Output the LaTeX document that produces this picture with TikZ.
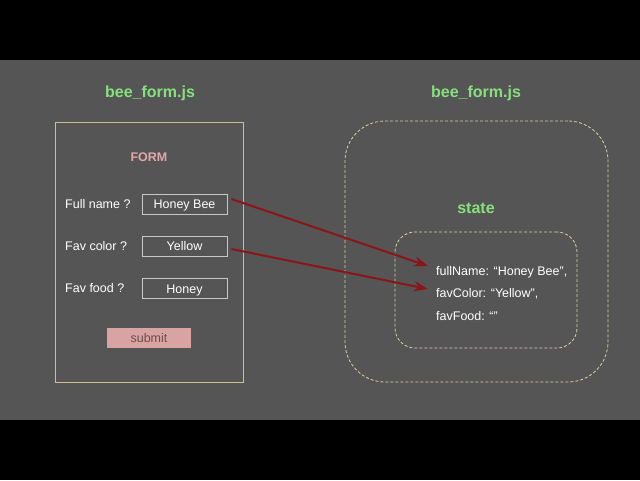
\documentclass[tikz,border=0pt]{standalone}
\usepackage{fontspec}
\setmainfont{Liberation Sans}
\usetikzlibrary{arrows.meta}

\definecolor{bggray}{HTML}{555555}
\definecolor{titlegreen}{HTML}{86E07E}
\definecolor{frametan}{HTML}{CDBF8F}
\definecolor{formpink}{HTML}{E0A8A8}
\definecolor{submitpink}{HTML}{D9A3A3}
\definecolor{submittext}{HTML}{6E4C4C}
\definecolor{fieldgray}{HTML}{C8C8C8}
\definecolor{dashtan}{HTML}{D8CFA6}
\definecolor{linkred}{HTML}{8B1518}

\begin{document}
\begin{tikzpicture}
    [x=1pt,y=-1pt,
    font=\fontsize{12.5}{15}\selectfont,
    title/.style={text=titlegreen,font=\fontsize{16}{19}\selectfont\bfseries},
    field/.style={draw=fieldgray,thick,text=white,minimum width=85pt,minimum height=20pt,inner sep=0pt,text height=9pt,text depth=0pt},
    question/.style={anchor=west,text=white,inner sep=0pt},
    statebox/.style={draw=dashtan,dash pattern=on 3pt off 2pt,thick},
    stateline/.style={anchor=west,text=white,inner sep=0pt},
    link/.style={-{Stealth[length=14pt,width=10pt]},linkred,line width=2pt}]

%background and black bars
\fill[black] (0,0) rectangle (640,480);
\fill[bggray] (0,60) rectangle (640,420);

%titles
\node[title] (lefttitle) at (150,93) {bee\_form.js};
\node[title] (righttitle) at (476,93) {bee\_form.js};

%the form
\node[draw=frametan,thick,minimum width=188pt,minimum height=260pt] (form) at (149,252) {};
\node[text=formpink,font=\fontsize{12.5}{15}\selectfont\bfseries] (formlabel) at (149,157) {FORM};

\node[question] (qname) at (65,204) {Full name ?};
\node[question] (qcolor) at (65,246) {Fav color ?};
\node[question] (qfood) at (65,288) {Fav food ?};

\node[field] (honeybee) at (184.5,204) {Honey Bee};
\node[field] (yellow) at (184.5,246) {Yellow};
\node[field] (honey) at (184.5,288.5) {Honey};

\node[fill=submitpink,text=submittext,minimum width=84pt,minimum height=20pt,inner sep=0pt,text height=9pt,text depth=0pt] (submit) at (149,338) {submit};

%the component and its state
\node[statebox,rounded corners=40pt,minimum width=263pt,minimum height=261pt] (component) at (476.5,251.5) {};
\node[title] (statelabel) at (476,208) {state};
\node[statebox,rounded corners=20pt,minimum width=182pt,minimum height=116pt] (state) at (486,290) {};

\node[stateline] (fullname) at (436,272) {fullName: “Honey Bee”,};
\node[stateline] (favcolor) at (436,294) {favColor: “Yellow”,};
\node[stateline] (favfood) at (436,316) {favFood: “”};

%draw the links from the fields to the state
\draw[link] ([xshift=4pt,yshift=5pt]honeybee.east) -- ([xshift=-8pt,yshift=6pt]fullname.west);
\draw[link] ([xshift=4pt,yshift=-3pt]yellow.east) -- ([xshift=-8pt,yshift=5pt]favcolor.west);

\end{tikzpicture}
\end{document}
